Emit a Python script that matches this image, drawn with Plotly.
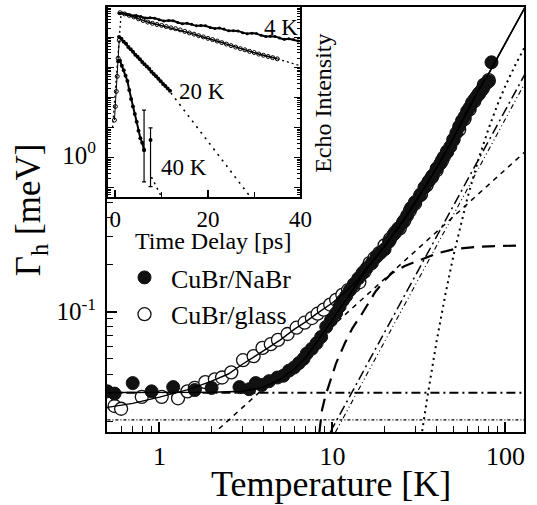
import plotly.graph_objects as go

# ---------------- main panel data (Temperature [K], Gamma_h [meV]) ----------------
nabr_T = [0.5, 0.55, 0.70, 0.90, 1.2, 1.6, 2.0, 2.9, 3.3, 3.6, 3.9, 4.3, 4.8, 5.2, 5.6,
          6.0, 6.4, 6.8, 7.1, 7.6, 8.1, 8.6, 9.2, 9.8, 10.5, 11.0, 11.5, 12.0, 12.6, 13.3,
          14.1, 14.9, 15.8, 16.9, 18.0, 19.0, 20.0, 21.2, 22.5, 24, 25.5, 27, 28.5, 30,
          32, 34, 36, 38, 40, 42, 44, 46, 48, 50, 52, 54, 56, 58, 60, 62, 64, 66, 68, 70,
          72, 74, 76, 78, 80, 83]
nabr_G = [0.031, 0.030, 0.035, 0.031, 0.033, 0.0316, 0.0326, 0.033, 0.032, 0.035, 0.034,
          0.036, 0.038, 0.039, 0.042,
          0.044, 0.047, 0.050, 0.054, 0.058, 0.063, 0.069, 0.080, 0.088, 0.098, 0.108,
          0.118, 0.126, 0.137, 0.150, 0.163, 0.176, 0.190, 0.204, 0.225, 0.238, 0.250,
          0.280, 0.31, 0.34, 0.37, 0.41, 0.46, 0.50, 0.55, 0.62, 0.68, 0.74, 0.82, 0.88,
          0.97, 1.05, 1.13, 1.25, 1.38, 1.52, 1.65, 1.75, 1.90, 2.0, 2.15, 2.25, 2.35,
          2.45, 2.55, 2.65, 2.8, 2.9, 2.95, 3.9]

glass_T = [0.52, 0.55, 0.6, 0.79, 1.03, 1.28, 1.45, 1.6, 1.84, 2.09, 2.3, 2.6, 3.04, 3.5,
           3.94, 4.4, 4.84, 5.5, 6.2, 6.9, 7.6, 8.2, 8.9, 9.7, 10.5, 11.4, 12.3, 13.3,
           14.3, 15.3, 16.4, 17.5, 18.6, 20, 21.5, 23, 24.5, 26, 28, 30, 32.5, 35, 37.5,
           40, 43, 46, 50, 54, 58, 62, 66, 70, 75, 80]
glass_G = [0.0265, 0.025, 0.024, 0.0286, 0.0286, 0.028, 0.031, 0.0326, 0.0355, 0.037,
           0.038, 0.041, 0.049, 0.052, 0.0587, 0.062, 0.066, 0.072, 0.079, 0.085, 0.091,
           0.097, 0.103, 0.111, 0.119, 0.128, 0.137, 0.146, 0.154, 0.180, 0.204, 0.22,
           0.236, 0.265, 0.29, 0.32, 0.34, 0.38, 0.44, 0.49, 0.56, 0.64, 0.72, 0.80, 0.92,
           1.05, 1.25, 1.45, 1.7, 1.95, 2.2, 2.45, 2.8, 3.0]

# fitted curves
fit_nabr_T = [0.5, 1, 2, 3, 4, 5, 6, 7, 8, 9, 10, 11, 12, 14, 16, 18, 20, 25, 30, 40, 50,
              60, 70, 80, 90, 100, 115, 130]
fit_nabr_G = [0.0305, 0.0305, 0.0306, 0.031, 0.033, 0.037, 0.043, 0.051, 0.062, 0.075,
              0.089, 0.104, 0.12, 0.155, 0.19, 0.225, 0.262, 0.37, 0.50, 0.83, 1.28, 1.9,
              2.6, 3.3, 4.2, 5.1, 6.8, 8.8]
fit_glass_T = [0.5, 0.7, 1, 1.5, 2, 2.5, 3, 4, 5, 6, 7, 8, 9, 10, 12, 14, 16, 18, 20, 25,
               30, 40, 50, 60, 70, 80, 90, 100, 115, 130]
fit_glass_G = [0.0245, 0.026, 0.0285, 0.032, 0.036, 0.040, 0.046, 0.056, 0.066, 0.077,
               0.086, 0.096, 0.105, 0.114, 0.135, 0.16, 0.195, 0.225, 0.26, 0.36, 0.49,
               0.82, 1.28, 1.9, 2.6, 3.3, 4.2, 5.1, 6.8, 8.8]

# individual contributions
const_nabr_T = [0.5, 130]
const_nabr_G = [0.0304, 0.0304]
const_glass_T = [0.5, 130]
const_glass_G = [0.0204, 0.0204]
linear_T = [2.0, 130]
linear_G = [0.0162, 1.05]
sat_T = [8.4, 8.7, 9.1, 9.75, 10.5, 11.8, 13.0, 14.9, 17.7, 20, 22, 26, 31, 40, 50, 70, 130]
sat_G = [0.017, 0.0236, 0.029, 0.0368, 0.047, 0.063, 0.078, 0.098, 0.134, 0.158, 0.176,
         0.195, 0.21, 0.235, 0.25, 0.26, 0.265]
pow_a_T = [9.7, 130]
pow_a_G = [0.017, 3.3]
pow_b_T = [10.4, 130]
pow_b_G = [0.017, 2.9]
act_T = [33, 35, 40, 45, 50, 60, 70, 80, 90, 100, 115, 130]
act_G = [0.0173, 0.0266, 0.065, 0.130, 0.227, 0.523, 0.947, 1.48, 2.10, 2.77, 3.83, 4.93]

# ---------------- inset data (Time Delay [ps], Echo Intensity [arb.]) ----------------
e4a_t = [0.8, 1.5, 2.5, 3.5, 4.5, 5.5, 6.5, 7.5, 8.5, 9.5, 10.5, 11.5, 12.5, 13.5, 14.5,
         15.5, 16.5, 17.5, 18.5, 19.5, 20.5, 21.5, 22.5, 23.5, 24.5, 25.5, 26.5, 27.5,
         28.5, 29.5, 30.5, 31.5, 32.5, 33.5, 34.5, 35.5, 36.5, 37.5, 38.5, 39.5]
e4a_I = [0.617, 0.631, 0.577, 0.516, 0.524, 0.480, 0.434, 0.441, 0.427, 0.378, 0.345,
         0.359, 0.348, 0.308, 0.281, 0.289, 0.267, 0.237, 0.243, 0.238, 0.208, 0.193,
         0.200, 0.185, 0.162, 0.163, 0.161, 0.141, 0.130, 0.136, 0.131, 0.115, 0.106,
         0.108, 0.106, 0.0935, 0.0845, 0.0879, 0.0832, 0.0745]
e4b_t = [1, 2, 3, 4, 5, 6, 7, 8, 9, 10, 11, 12, 13, 14, 15, 16, 17, 18, 19, 20, 21, 22,
         23, 24, 25, 26, 27, 28, 29, 30, 31, 32, 33, 34, 35]
e4b_I = [0.646, 0.589, 0.525, 0.468, 0.407, 0.355, 0.316, 0.288, 0.263, 0.245, 0.224,
         0.204, 0.191, 0.174, 0.155, 0.138, 0.126, 0.112, 0.102, 0.0912, 0.0832, 0.0741,
         0.0661, 0.0589, 0.0525, 0.0468, 0.0417, 0.0380, 0.0339, 0.0309, 0.0275, 0.0251,
         0.0229, 0.0209, 0.0191]
f4b_t = [35, 39.6]
f4b_I = [0.0191, 0.0117]
e20_t = [0.8, 1.3, 1.8, 2.3, 2.8, 3.3, 3.8, 4.3, 4.8, 5.3, 5.8, 6.3, 6.8, 7.3, 7.8, 8.3,
         8.8, 9.3, 9.8, 10.3, 10.8, 11.3, 11.8]
e20_I = [0.102, 0.0891, 0.0708, 0.0603, 0.0468, 0.0398, 0.0331, 0.0263, 0.0224, 0.0186,
         0.0151, 0.0126, 0.0107, 0.00891, 0.00708, 0.00603, 0.00501, 0.00417, 0.00347,
         0.00282, 0.00240, 0.00200, 0.00166]
f20_t = [12.0, 29.2]
f20_I = [0.00141, 5.0e-7]
e40_t = [0.6, 1.0, 1.4, 1.8, 2.2, 2.6, 3.0, 3.4, 3.8, 4.2, 4.6, 5.0, 5.4, 5.8, 6.2]
e40_I = [0.0158, 0.0166, 0.0112, 0.00794, 0.00525, 0.00355, 0.00178, 8.91e-4, 5.01e-4,
         2.82e-4, 1.58e-4, 7.94e-5, 4.47e-5, 3.16e-5, 1.82e-5]
e40err_t = [6.2, 7.6]
e40err_I = [1.82e-5, 3.89e-5]
e40err_up = [3.62e-4, 5.9e-5]
e40err_dn = [1.66e-5, 3.78e-5]
f40_t = [7.8, 10.0]
f40_I = [2.29e-6, 5.0e-7]
rise_t = [-0.2, 0.0, 0.2, 0.4, 0.6, 0.84]
rise_I = [1.78e-4, 5.01e-4, 1.58e-3, 5.01e-3, 0.0200, 0.0794]
frise_t = [-0.6, 1.2]
frise_I = [1e-4, 0.5]

# ---------------- layout helpers ----------------
W, H = 537, 505
L, R, T, B = 107, 1, 7, 73
PW, PH = W - L - R, H - T - B
FONT = "Liberation Serif, Times New Roman, serif"


def px(x):
    return (x - L) / PW


def py(y):
    return (H - B - y) / PH


fig = go.Figure()

K = "black"


def line(x, y, dash, width=1.5, xa="x", ya="y", color=K):
    fig.add_trace(go.Scatter(x=x, y=y, mode="lines", xaxis=xa, yaxis=ya, showlegend=False,
                             line=dict(color=color, width=width, dash=dash),
                             hoverinfo="skip"))


# component curves
line(const_glass_T, const_glass_G, "3px,2px,1px,2px", 1.2)
line(const_nabr_T, const_nabr_G, "9px,4px,2px,4px", 2)
line(linear_T, linear_G, "5px,5px", 1.5)
line(sat_T, sat_G, "13px,8px", 2.2)
line(pow_a_T, pow_a_G, "10px,4px,2px,4px", 1.5)
line(pow_b_T, pow_b_G, "5px,3px,1px,3px,1px,3px", 1.1)
line(act_T, act_G, "2px,4px", 2)

# data (glass drawn first, NaBr on top, as in the original)
fig.add_trace(go.Scatter(x=glass_T, y=glass_G, mode="markers", name=" CuBr/glass",
                         legendrank=2,
                         marker=dict(symbol="circle", size=13, color="white",
                                     line=dict(color="#111", width=1.3))))
fig.add_trace(go.Scatter(x=nabr_T, y=nabr_G, mode="markers", name=" CuBr/NaBr",
                         legendrank=1,
                         marker=dict(symbol="circle", size=13, color="#111",
                                     line=dict(color="#111", width=1))))
# fits
line(fit_nabr_T, fit_nabr_G, "solid", 1.6)
line(fit_glass_T, fit_glass_G, "solid", 1.4)

# inset traces
fig.add_trace(go.Scatter(x=frise_t, y=frise_I, mode="lines", xaxis="x2", yaxis="y2",
                         showlegend=False, line=dict(color=K, width=1.3, dash="2px,3px")))
fig.add_trace(go.Scatter(x=rise_t, y=rise_I, mode="lines+markers", xaxis="x2", yaxis="y2",
                         showlegend=False, line=dict(color=K, width=1),
                         marker=dict(symbol="circle-open", size=4, color=K)))
fig.add_trace(go.Scatter(x=e4a_t, y=e4a_I, mode="lines+markers", xaxis="x2", yaxis="y2",
                         showlegend=False, line=dict(color=K, width=2),
                         marker=dict(symbol="circle", size=3, color=K)))
fig.add_trace(go.Scatter(x=e4b_t, y=e4b_I, mode="lines+markers", xaxis="x2", yaxis="y2",
                         showlegend=False, line=dict(color=K, width=1.5),
                         marker=dict(symbol="circle-open", size=4, color=K)))
line(f4b_t, f4b_I, "2px,3px", 1.3, "x2", "y2")
fig.add_trace(go.Scatter(x=e20_t, y=e20_I, mode="lines+markers", xaxis="x2", yaxis="y2",
                         showlegend=False, line=dict(color=K, width=2),
                         marker=dict(symbol="circle", size=4, color=K)))
line(f20_t, f20_I, "2px,5px", 1.6, "x2", "y2")
fig.add_trace(go.Scatter(x=e40_t, y=e40_I, mode="lines+markers", xaxis="x2", yaxis="y2",
                         showlegend=False, line=dict(color=K, width=2),
                         marker=dict(symbol="circle", size=4, color=K)))
fig.add_trace(go.Scatter(x=e40err_t, y=e40err_I, mode="markers", xaxis="x2", yaxis="y2",
                         showlegend=False, marker=dict(symbol="circle", size=4, color=K),
                         error_y=dict(type="data", array=e40err_up, arrayminus=e40err_dn,
                                      color=K, thickness=1.2, width=2)))
line(f40_t, f40_I, "2px,4px", 1.5, "x2", "y2")

# ---------------- axes ----------------
minor_x = [v * m for m in (0.1, 1, 10) for v in range(2, 10)] + [0.5]
minor_y = [v * m for m in (0.01, 0.1, 1) for v in range(2, 10)]
inset_major_y = [10.0 ** (-k) for k in range(0, 7)]
inset_minor_y = [v * 10.0 ** (-k) for k in range(1, 8) for v in range(2, 10)]

fig.update_layout(
    width=W, height=H,
    margin=dict(l=L, r=R, t=T, b=B, pad=0),
    paper_bgcolor="white", plot_bgcolor="white",
    font=dict(family=FONT, color=K),
    xaxis=dict(type="log", range=[-0.3034, 2.107], domain=[0, 1], anchor="y",
               tickmode="array", tickvals=[1, 10, 100], ticktext=["1", "10", "100"],
               ticks="inside", ticklen=10, tickwidth=1.5, tickcolor=K,
               minor=dict(tickmode="array", tickvals=minor_x, ticks="inside", ticklen=6,
                          tickwidth=1.2, tickcolor=K, showgrid=False),
               showline=True, linewidth=2, linecolor=K, mirror=True,
               showgrid=False, zeroline=False,
               tickfont=dict(family=FONT, size=26, color=K), ticklabelstandoff=0),
    yaxis=dict(type="log", range=[-1.768, 0.944], domain=[0, 1], anchor="x",
               tickmode="array", tickvals=[0.1, 1],
               ticktext=["10<sup>-1</sup>", "10<sup>0</sup>"],
               ticks="inside", ticklen=10, tickwidth=1.5, tickcolor=K,
               minor=dict(tickmode="array", tickvals=minor_y, ticks="inside", ticklen=6,
                          tickwidth=1.2, tickcolor=K, showgrid=False),
               showline=True, linewidth=2, linecolor=K, mirror=True,
               showgrid=False, zeroline=False,
               tickfont=dict(family=FONT, size=25, color=K), ticklabelstandoff=4),
    xaxis2=dict(range=[-1.6, 40], domain=[px(108), px(306)], anchor="y2",
                tickmode="array", tickvals=[0, 20, 40], ticks="inside", ticklen=7,
                tickwidth=1.5, tickcolor=K,
                minor=dict(tickmode="array", tickvals=[10, 30], ticks="inside", ticklen=5,
                           tickwidth=1.2, tickcolor=K, showgrid=False),
                showline=True, linewidth=2, linecolor=K, mirror=True,
                showgrid=False, zeroline=False,
                tickfont=dict(family=FONT, size=23, color=K), ticklabelstandoff=0),
    yaxis2=dict(type="log", range=[-6.3, 0], domain=[py(197), py(7)], anchor="x2",
                tickmode="array", tickvals=inset_major_y, showticklabels=False,
                ticks="inside", ticklen=6, tickwidth=1.2, tickcolor=K,
                minor=dict(tickmode="array", tickvals=inset_minor_y, ticks="inside",
                           ticklen=3, tickwidth=1, tickcolor=K, showgrid=False),
                showline=True, linewidth=2, linecolor=K, mirror="ticks",
                showgrid=False, zeroline=False),
    legend=dict(x=px(125), y=py(254), xanchor="left", yanchor="top",
                font=dict(family=FONT, size=26, color=K), bgcolor="rgba(0,0,0,0)",
                tracegroupgap=0, itemsizing="trace"),
)


def ann(text, x, y, size, angle=0):
    fig.add_annotation(text=text, x=px(x), y=py(y), xref="paper", yref="paper",
                       showarrow=False, textangle=angle, xanchor="center",
                       yanchor="middle", font=dict(family=FONT, size=size, color=K))


ann("Temperature [K]", 337, 484, 36)
ann("Γ<sub>h</sub> [meV]", 28, 210, 35, -90)
ann("Time Delay [ps]", 216, 241, 24)
ann("Echo Intensity", 329, 103, 24, -90)
ann("4 K", 286, 27, 23)
ann("20 K", 205, 92, 23)
ann("40 K", 186, 168, 23)

fig.write_html("out.html")
